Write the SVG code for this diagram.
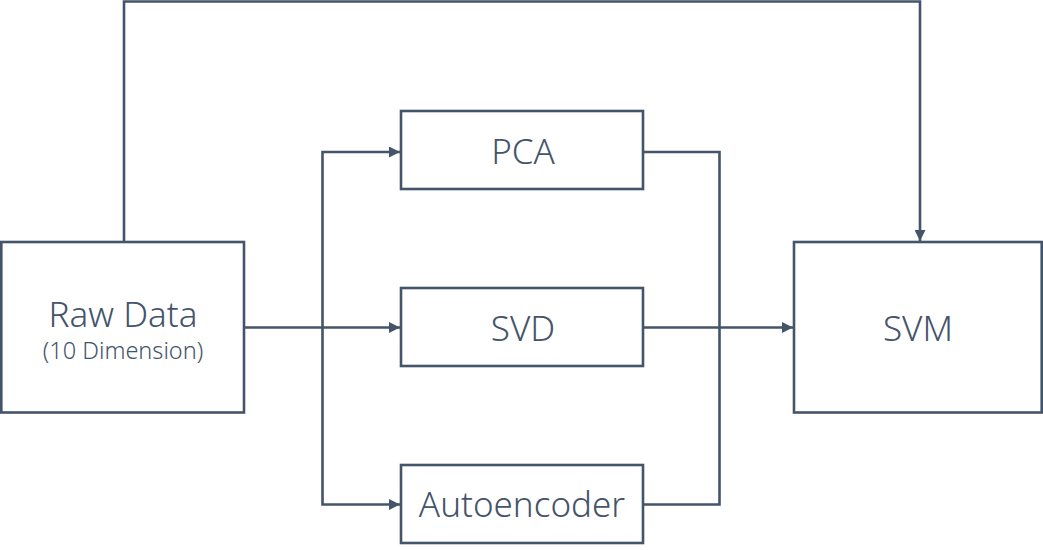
<svg xmlns="http://www.w3.org/2000/svg" width="1043" height="550" viewBox="0 0 1043 550">
<style>
.box{fill:#fff;stroke:#44546A;stroke-width:2.6}
.ln{fill:none;stroke:#44546A;stroke-width:2.6}
text{font-family:"Noto Sans","Liberation Sans",sans-serif;fill:#44546A;text-anchor:middle;font-weight:300}
.big{font-size:35px}
.small{font-size:23.5px}
</style>
<defs>
<marker id="arr" viewBox="0 0 11 11" refX="11" refY="5.5" markerWidth="11" markerHeight="11" markerUnits="userSpaceOnUse" orient="auto">
<path d="M0,0 L11,5.5 L0,11 Z" fill="#44546A"/>
</marker>
</defs>
<g id="connectors">
<path class="ln" d="M124,242 V1.5 H920 V241" marker-end="url(#arr)"/>
<path class="ln" d="M244,327.5 H400" marker-end="url(#arr)"/>
<path class="ln" d="M322.5,327.5 V152 H400" marker-end="url(#arr)"/>
<path class="ln" d="M322.5,327.5 V504.5 H400" marker-end="url(#arr)"/>
<path class="ln" d="M643,152 H719.5 V504.5 H643"/>
<path class="ln" d="M643,327.5 H793" marker-end="url(#arr)"/>
</g>
<g id="raw">
<rect class="box" x="1.3" y="242" width="242.7" height="170.5"/>
<text class="big" x="123" y="326.5">Raw Data</text>
<text class="small" x="123" y="358.5">(10 Dimension)</text>
</g>
<g id="pca">
<rect class="box" x="401" y="111" width="242" height="78"/>
<text class="big" x="523" y="164">PCA</text>
</g>
<g id="svd">
<rect class="box" x="401" y="288" width="242" height="78"/>
<text class="big" x="523" y="341">SVD</text>
</g>
<g id="autoencoder">
<rect class="box" x="401" y="465" width="242" height="78"/>
<text class="big" x="522" y="517">Autoencoder</text>
</g>
<g id="svm">
<rect class="box" x="794" y="242" width="247.7" height="170.5"/>
<text class="big" x="918" y="340.5">SVM</text>
</g>
</svg>
